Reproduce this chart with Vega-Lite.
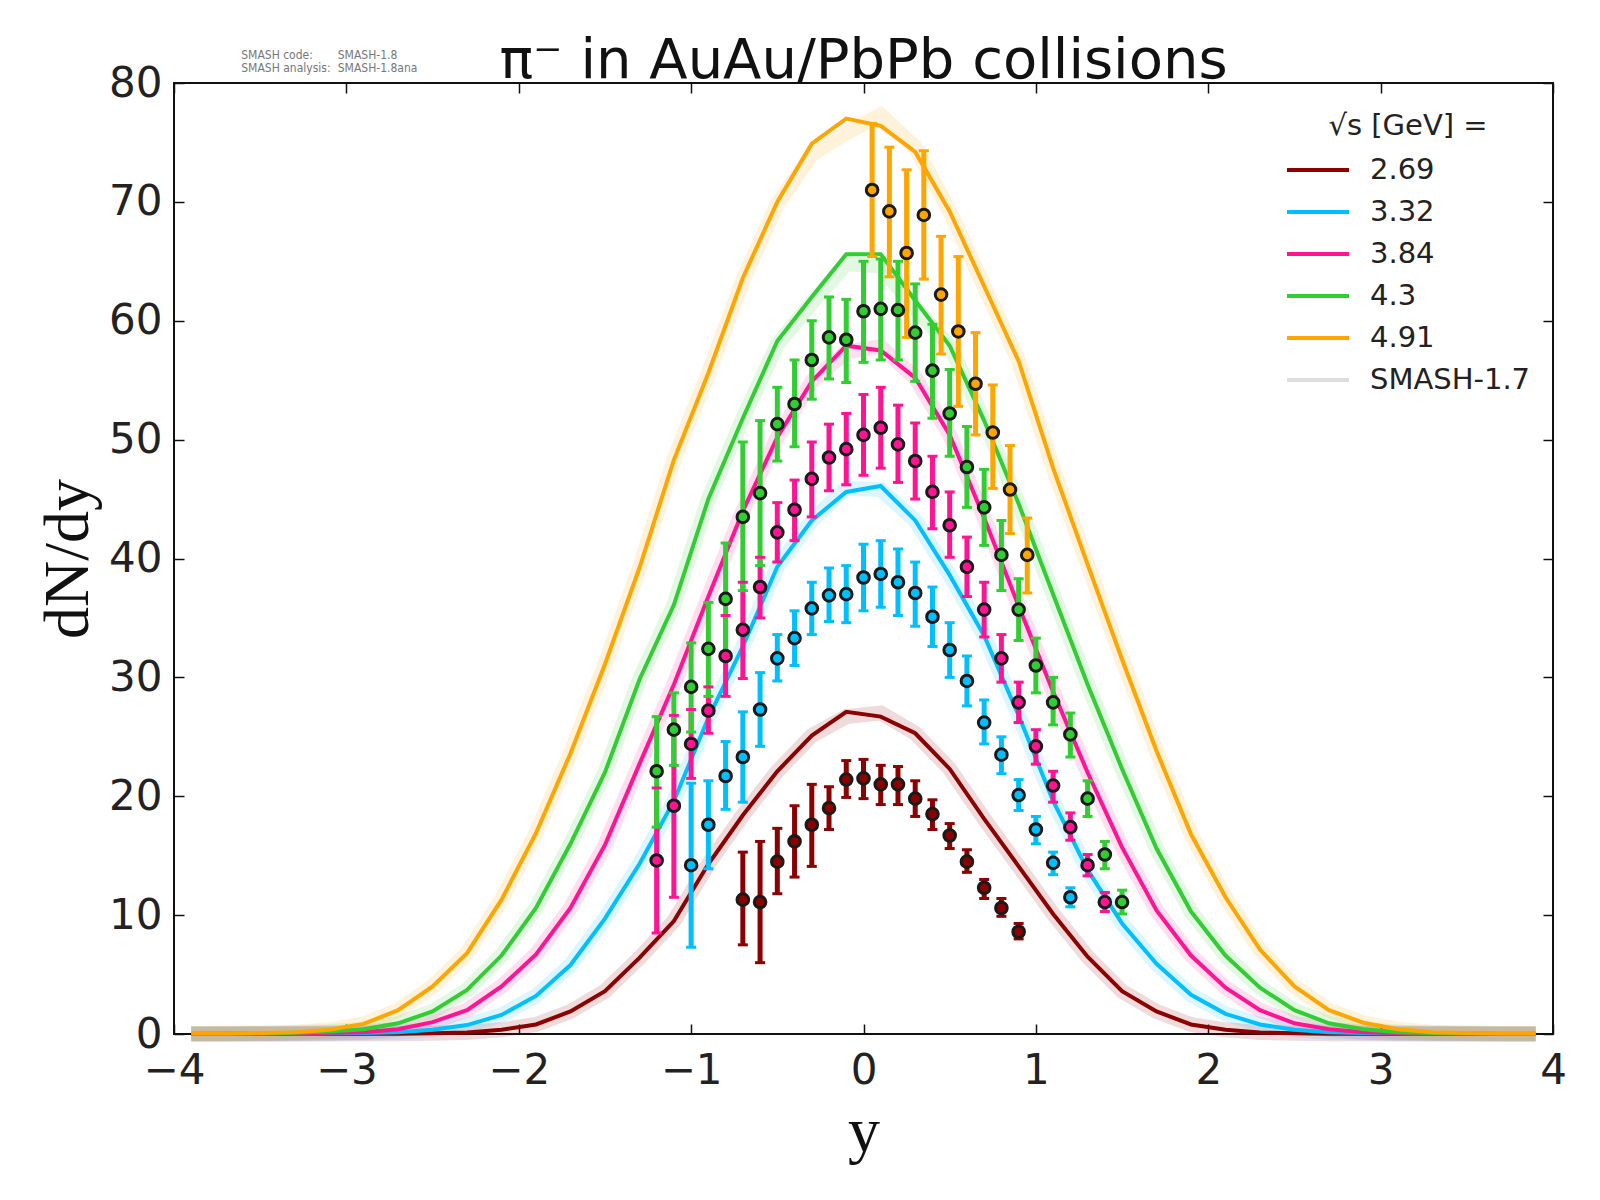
{
  "$schema": "https://vega.github.io/schema/vega-lite/v6.json",
  "width": 1379,
  "height": 951,
  "autosize": {"type": "none"},
  "padding": {"left": 174, "top": 83, "right": 47, "bottom": 166},
  "background": "white",
  "title": {
    "text": "π⁻ in AuAu/PbPb collisions",
    "font": "DejaVu Sans",
    "fontSize": 56,
    "fontWeight": "normal",
    "color": "#111",
    "anchor": "middle",
    "offset": -41
  },
  "datasets": {
    "curves": [
      {"energy": "2.69", "rap": -3.9, "dndy": 0.01, "dndy17": 0.01},
      {"energy": "2.69", "rap": -3.7, "dndy": 0.01, "dndy17": 0.01},
      {"energy": "2.69", "rap": -3.5, "dndy": 0.01, "dndy17": 0.01},
      {"energy": "2.69", "rap": -3.3, "dndy": 0.01, "dndy17": 0.01},
      {"energy": "2.69", "rap": -3.1, "dndy": 0.01, "dndy17": 0.01},
      {"energy": "2.69", "rap": -2.9, "dndy": 0.02, "dndy17": 0.02},
      {"energy": "2.69", "rap": -2.7, "dndy": 0.03, "dndy17": 0.03},
      {"energy": "2.69", "rap": -2.5, "dndy": 0.06, "dndy17": 0.06},
      {"energy": "2.69", "rap": -2.3, "dndy": 0.12, "dndy17": 0.12},
      {"energy": "2.69", "rap": -2.1, "dndy": 0.35, "dndy17": 0.35},
      {"energy": "2.69", "rap": -1.9, "dndy": 0.8, "dndy17": 0.8},
      {"energy": "2.69", "rap": -1.7, "dndy": 1.9, "dndy17": 1.9},
      {"energy": "2.69", "rap": -1.5, "dndy": 3.6, "dndy17": 3.6},
      {"energy": "2.69", "rap": -1.3, "dndy": 6.4, "dndy17": 6.4},
      {"energy": "2.69", "rap": -1.1, "dndy": 9.5, "dndy17": 9.5},
      {"energy": "2.69", "rap": -0.9, "dndy": 14.3, "dndy17": 14.3},
      {"energy": "2.69", "rap": -0.7, "dndy": 18.4, "dndy17": 18.4},
      {"energy": "2.69", "rap": -0.5, "dndy": 22.1, "dndy17": 22.1},
      {"energy": "2.69", "rap": -0.3, "dndy": 25.1, "dndy17": 25.1},
      {"energy": "2.69", "rap": -0.1, "dndy": 27.1, "dndy17": 26.7},
      {"energy": "2.69", "rap": 0.1, "dndy": 26.7, "dndy17": 27.0},
      {"energy": "2.69", "rap": 0.3, "dndy": 25.3, "dndy17": 25.3},
      {"energy": "2.69", "rap": 0.5, "dndy": 22.3, "dndy17": 22.3},
      {"energy": "2.69", "rap": 0.7, "dndy": 18.1, "dndy17": 18.1},
      {"energy": "2.69", "rap": 0.9, "dndy": 14.1, "dndy17": 14.1},
      {"energy": "2.69", "rap": 1.1, "dndy": 10.1, "dndy17": 10.1},
      {"energy": "2.69", "rap": 1.3, "dndy": 6.5, "dndy17": 6.5},
      {"energy": "2.69", "rap": 1.5, "dndy": 3.6, "dndy17": 3.6},
      {"energy": "2.69", "rap": 1.7, "dndy": 1.9, "dndy17": 1.9},
      {"energy": "2.69", "rap": 1.9, "dndy": 0.8, "dndy17": 0.8},
      {"energy": "2.69", "rap": 2.1, "dndy": 0.35, "dndy17": 0.35},
      {"energy": "2.69", "rap": 2.3, "dndy": 0.12, "dndy17": 0.12},
      {"energy": "2.69", "rap": 2.5, "dndy": 0.06, "dndy17": 0.06},
      {"energy": "2.69", "rap": 2.7, "dndy": 0.03, "dndy17": 0.03},
      {"energy": "2.69", "rap": 2.9, "dndy": 0.02, "dndy17": 0.02},
      {"energy": "2.69", "rap": 3.1, "dndy": 0.01, "dndy17": 0.01},
      {"energy": "2.69", "rap": 3.3, "dndy": 0.01, "dndy17": 0.01},
      {"energy": "2.69", "rap": 3.5, "dndy": 0.01, "dndy17": 0.01},
      {"energy": "2.69", "rap": 3.7, "dndy": 0.01, "dndy17": 0.01},
      {"energy": "2.69", "rap": 3.9, "dndy": 0.01, "dndy17": 0.01},

      {"energy": "3.32", "rap": -3.9, "dndy": 0.01, "dndy17": 0.01},
      {"energy": "3.32", "rap": -3.7, "dndy": 0.01, "dndy17": 0.01},
      {"energy": "3.32", "rap": -3.5, "dndy": 0.02, "dndy17": 0.02},
      {"energy": "3.32", "rap": -3.3, "dndy": 0.03, "dndy17": 0.03},
      {"energy": "3.32", "rap": -3.1, "dndy": 0.05, "dndy17": 0.05},
      {"energy": "3.32", "rap": -2.9, "dndy": 0.08, "dndy17": 0.08},
      {"energy": "3.32", "rap": -2.7, "dndy": 0.15, "dndy17": 0.15},
      {"energy": "3.32", "rap": -2.5, "dndy": 0.35, "dndy17": 0.35},
      {"energy": "3.32", "rap": -2.3, "dndy": 0.75, "dndy17": 0.75},
      {"energy": "3.32", "rap": -2.1, "dndy": 1.6, "dndy17": 1.6},
      {"energy": "3.32", "rap": -1.9, "dndy": 3.2, "dndy17": 3.2},
      {"energy": "3.32", "rap": -1.7, "dndy": 5.8, "dndy17": 5.8},
      {"energy": "3.32", "rap": -1.5, "dndy": 9.7, "dndy17": 9.7},
      {"energy": "3.32", "rap": -1.3, "dndy": 14.3, "dndy17": 14.3},
      {"energy": "3.32", "rap": -1.1, "dndy": 19.6, "dndy17": 19.6},
      {"energy": "3.32", "rap": -0.9, "dndy": 26.6, "dndy17": 26.6},
      {"energy": "3.32", "rap": -0.7, "dndy": 32.6, "dndy17": 32.6},
      {"energy": "3.32", "rap": -0.5, "dndy": 39.3, "dndy17": 39.3},
      {"energy": "3.32", "rap": -0.3, "dndy": 43.2, "dndy17": 43.2},
      {"energy": "3.32", "rap": -0.1, "dndy": 45.6, "dndy17": 45.9},
      {"energy": "3.32", "rap": 0.1, "dndy": 46.1, "dndy17": 45.8},
      {"energy": "3.32", "rap": 0.3, "dndy": 43.2, "dndy17": 43.2},
      {"energy": "3.32", "rap": 0.5, "dndy": 38.6, "dndy17": 38.6},
      {"energy": "3.32", "rap": 0.7, "dndy": 33.5, "dndy17": 33.5},
      {"energy": "3.32", "rap": 0.9, "dndy": 26.8, "dndy17": 26.8},
      {"energy": "3.32", "rap": 1.1, "dndy": 19.6, "dndy17": 19.6},
      {"energy": "3.32", "rap": 1.3, "dndy": 13.8, "dndy17": 13.8},
      {"energy": "3.32", "rap": 1.5, "dndy": 9.3, "dndy17": 9.3},
      {"energy": "3.32", "rap": 1.7, "dndy": 5.9, "dndy17": 5.9},
      {"energy": "3.32", "rap": 1.9, "dndy": 3.3, "dndy17": 3.3},
      {"energy": "3.32", "rap": 2.1, "dndy": 1.7, "dndy17": 1.7},
      {"energy": "3.32", "rap": 2.3, "dndy": 0.8, "dndy17": 0.8},
      {"energy": "3.32", "rap": 2.5, "dndy": 0.35, "dndy17": 0.35},
      {"energy": "3.32", "rap": 2.7, "dndy": 0.15, "dndy17": 0.15},
      {"energy": "3.32", "rap": 2.9, "dndy": 0.08, "dndy17": 0.08},
      {"energy": "3.32", "rap": 3.1, "dndy": 0.05, "dndy17": 0.05},
      {"energy": "3.32", "rap": 3.3, "dndy": 0.03, "dndy17": 0.03},
      {"energy": "3.32", "rap": 3.5, "dndy": 0.02, "dndy17": 0.02},
      {"energy": "3.32", "rap": 3.7, "dndy": 0.01, "dndy17": 0.01},
      {"energy": "3.32", "rap": 3.9, "dndy": 0.01, "dndy17": 0.01},

      {"energy": "3.84", "rap": -3.9, "dndy": 0.01, "dndy17": 0.01},
      {"energy": "3.84", "rap": -3.7, "dndy": 0.02, "dndy17": 0.02},
      {"energy": "3.84", "rap": -3.5, "dndy": 0.03, "dndy17": 0.03},
      {"energy": "3.84", "rap": -3.3, "dndy": 0.05, "dndy17": 0.05},
      {"energy": "3.84", "rap": -3.1, "dndy": 0.1, "dndy17": 0.1},
      {"energy": "3.84", "rap": -2.9, "dndy": 0.15, "dndy17": 0.15},
      {"energy": "3.84", "rap": -2.7, "dndy": 0.4, "dndy17": 0.4},
      {"energy": "3.84", "rap": -2.5, "dndy": 1.0, "dndy17": 1.0},
      {"energy": "3.84", "rap": -2.3, "dndy": 2.0, "dndy17": 2.0},
      {"energy": "3.84", "rap": -2.1, "dndy": 4.0, "dndy17": 4.0},
      {"energy": "3.84", "rap": -1.9, "dndy": 6.7, "dndy17": 6.7},
      {"energy": "3.84", "rap": -1.7, "dndy": 10.6, "dndy17": 10.6},
      {"energy": "3.84", "rap": -1.5, "dndy": 15.9, "dndy17": 15.9},
      {"energy": "3.84", "rap": -1.3, "dndy": 22.7, "dndy17": 22.7},
      {"energy": "3.84", "rap": -1.1, "dndy": 29.4, "dndy17": 29.4},
      {"energy": "3.84", "rap": -0.9, "dndy": 36.8, "dndy17": 36.8},
      {"energy": "3.84", "rap": -0.7, "dndy": 44.0, "dndy17": 44.0},
      {"energy": "3.84", "rap": -0.5, "dndy": 50.2, "dndy17": 50.2},
      {"energy": "3.84", "rap": -0.3, "dndy": 54.9, "dndy17": 54.9},
      {"energy": "3.84", "rap": -0.1, "dndy": 57.9, "dndy17": 57.4},
      {"energy": "3.84", "rap": 0.1, "dndy": 57.5, "dndy17": 57.8},
      {"energy": "3.84", "rap": 0.3, "dndy": 55.2, "dndy17": 55.2},
      {"energy": "3.84", "rap": 0.5, "dndy": 50.4, "dndy17": 50.4},
      {"energy": "3.84", "rap": 0.7, "dndy": 43.4, "dndy17": 43.4},
      {"energy": "3.84", "rap": 0.9, "dndy": 36.0, "dndy17": 36.0},
      {"energy": "3.84", "rap": 1.1, "dndy": 28.8, "dndy17": 28.8},
      {"energy": "3.84", "rap": 1.3, "dndy": 22.0, "dndy17": 22.0},
      {"energy": "3.84", "rap": 1.5, "dndy": 15.7, "dndy17": 15.7},
      {"energy": "3.84", "rap": 1.7, "dndy": 10.4, "dndy17": 10.4},
      {"energy": "3.84", "rap": 1.9, "dndy": 6.6, "dndy17": 6.6},
      {"energy": "3.84", "rap": 2.1, "dndy": 3.9, "dndy17": 3.9},
      {"energy": "3.84", "rap": 2.3, "dndy": 2.0, "dndy17": 2.0},
      {"energy": "3.84", "rap": 2.5, "dndy": 0.9, "dndy17": 0.9},
      {"energy": "3.84", "rap": 2.7, "dndy": 0.4, "dndy17": 0.4},
      {"energy": "3.84", "rap": 2.9, "dndy": 0.15, "dndy17": 0.15},
      {"energy": "3.84", "rap": 3.1, "dndy": 0.08, "dndy17": 0.08},
      {"energy": "3.84", "rap": 3.3, "dndy": 0.04, "dndy17": 0.04},
      {"energy": "3.84", "rap": 3.5, "dndy": 0.02, "dndy17": 0.02},
      {"energy": "3.84", "rap": 3.7, "dndy": 0.01, "dndy17": 0.01},
      {"energy": "3.84", "rap": 3.9, "dndy": 0.01, "dndy17": 0.01},

      {"energy": "4.3", "rap": -3.9, "dndy": 0.02, "dndy17": 0.02},
      {"energy": "4.3", "rap": -3.7, "dndy": 0.03, "dndy17": 0.03},
      {"energy": "4.3", "rap": -3.5, "dndy": 0.05, "dndy17": 0.05},
      {"energy": "4.3", "rap": -3.3, "dndy": 0.1, "dndy17": 0.1},
      {"energy": "4.3", "rap": -3.1, "dndy": 0.2, "dndy17": 0.2},
      {"energy": "4.3", "rap": -2.9, "dndy": 0.4, "dndy17": 0.4},
      {"energy": "4.3", "rap": -2.7, "dndy": 0.9, "dndy17": 0.9},
      {"energy": "4.3", "rap": -2.5, "dndy": 1.9, "dndy17": 1.9},
      {"energy": "4.3", "rap": -2.3, "dndy": 3.7, "dndy17": 3.7},
      {"energy": "4.3", "rap": -2.1, "dndy": 6.6, "dndy17": 6.6},
      {"energy": "4.3", "rap": -1.9, "dndy": 10.6, "dndy17": 10.6},
      {"energy": "4.3", "rap": -1.7, "dndy": 16.0, "dndy17": 16.0},
      {"energy": "4.3", "rap": -1.5, "dndy": 22.0, "dndy17": 22.0},
      {"energy": "4.3", "rap": -1.3, "dndy": 29.8, "dndy17": 29.8},
      {"energy": "4.3", "rap": -1.1, "dndy": 36.1, "dndy17": 36.1},
      {"energy": "4.3", "rap": -0.9, "dndy": 45.0, "dndy17": 45.0},
      {"energy": "4.3", "rap": -0.7, "dndy": 51.8, "dndy17": 51.8},
      {"energy": "4.3", "rap": -0.5, "dndy": 58.3, "dndy17": 58.0},
      {"energy": "4.3", "rap": -0.3, "dndy": 62.0, "dndy17": 61.5},
      {"energy": "4.3", "rap": -0.1, "dndy": 65.6, "dndy17": 64.8},
      {"energy": "4.3", "rap": 0.1, "dndy": 65.6, "dndy17": 64.6},
      {"energy": "4.3", "rap": 0.3, "dndy": 61.7, "dndy17": 61.0},
      {"energy": "4.3", "rap": 0.5, "dndy": 57.9, "dndy17": 57.9},
      {"energy": "4.3", "rap": 0.7, "dndy": 51.6, "dndy17": 51.6},
      {"energy": "4.3", "rap": 0.9, "dndy": 44.6, "dndy17": 44.6},
      {"energy": "4.3", "rap": 1.1, "dndy": 37.0, "dndy17": 37.0},
      {"energy": "4.3", "rap": 1.3, "dndy": 29.4, "dndy17": 29.4},
      {"energy": "4.3", "rap": 1.5, "dndy": 22.3, "dndy17": 22.3},
      {"energy": "4.3", "rap": 1.7, "dndy": 15.6, "dndy17": 15.6},
      {"energy": "4.3", "rap": 1.9, "dndy": 10.3, "dndy17": 10.3},
      {"energy": "4.3", "rap": 2.1, "dndy": 6.6, "dndy17": 6.6},
      {"energy": "4.3", "rap": 2.3, "dndy": 3.9, "dndy17": 3.9},
      {"energy": "4.3", "rap": 2.5, "dndy": 2.0, "dndy17": 2.0},
      {"energy": "4.3", "rap": 2.7, "dndy": 0.9, "dndy17": 0.9},
      {"energy": "4.3", "rap": 2.9, "dndy": 0.4, "dndy17": 0.4},
      {"energy": "4.3", "rap": 3.1, "dndy": 0.15, "dndy17": 0.15},
      {"energy": "4.3", "rap": 3.3, "dndy": 0.08, "dndy17": 0.08},
      {"energy": "4.3", "rap": 3.5, "dndy": 0.05, "dndy17": 0.05},
      {"energy": "4.3", "rap": 3.7, "dndy": 0.03, "dndy17": 0.03},
      {"energy": "4.3", "rap": 3.9, "dndy": 0.02, "dndy17": 0.02},

      {"energy": "4.91", "rap": -3.9, "dndy": 0.05, "dndy17": 0.05},
      {"energy": "4.91", "rap": -3.7, "dndy": 0.05, "dndy17": 0.05},
      {"energy": "4.91", "rap": -3.5, "dndy": 0.08, "dndy17": 0.08},
      {"energy": "4.91", "rap": -3.3, "dndy": 0.15, "dndy17": 0.15},
      {"energy": "4.91", "rap": -3.1, "dndy": 0.35, "dndy17": 0.35},
      {"energy": "4.91", "rap": -2.9, "dndy": 0.85, "dndy17": 0.85},
      {"energy": "4.91", "rap": -2.7, "dndy": 2.0, "dndy17": 2.0},
      {"energy": "4.91", "rap": -2.5, "dndy": 4.0, "dndy17": 4.0},
      {"energy": "4.91", "rap": -2.3, "dndy": 6.8, "dndy17": 6.8},
      {"energy": "4.91", "rap": -2.1, "dndy": 11.3, "dndy17": 11.3},
      {"energy": "4.91", "rap": -1.9, "dndy": 16.9, "dndy17": 16.9},
      {"energy": "4.91", "rap": -1.7, "dndy": 23.6, "dndy17": 23.6},
      {"energy": "4.91", "rap": -1.5, "dndy": 31.1, "dndy17": 31.1},
      {"energy": "4.91", "rap": -1.3, "dndy": 39.2, "dndy17": 39.2},
      {"energy": "4.91", "rap": -1.1, "dndy": 48.3, "dndy17": 48.3},
      {"energy": "4.91", "rap": -0.9, "dndy": 55.6, "dndy17": 55.6},
      {"energy": "4.91", "rap": -0.7, "dndy": 63.6, "dndy17": 63.4},
      {"energy": "4.91", "rap": -0.5, "dndy": 70.0, "dndy17": 69.8},
      {"energy": "4.91", "rap": -0.3, "dndy": 74.9, "dndy17": 74.0},
      {"energy": "4.91", "rap": -0.1, "dndy": 77.0, "dndy17": 75.8},
      {"energy": "4.91", "rap": 0.1, "dndy": 76.4, "dndy17": 77.3},
      {"energy": "4.91", "rap": 0.3, "dndy": 74.2, "dndy17": 74.6},
      {"energy": "4.91", "rap": 0.5, "dndy": 69.2, "dndy17": 69.2},
      {"energy": "4.91", "rap": 0.7, "dndy": 62.9, "dndy17": 62.9},
      {"energy": "4.91", "rap": 0.9, "dndy": 56.6, "dndy17": 56.6},
      {"energy": "4.91", "rap": 1.1, "dndy": 47.6, "dndy17": 47.6},
      {"energy": "4.91", "rap": 1.3, "dndy": 39.5, "dndy17": 39.5},
      {"energy": "4.91", "rap": 1.5, "dndy": 31.5, "dndy17": 31.5},
      {"energy": "4.91", "rap": 1.7, "dndy": 23.8, "dndy17": 23.8},
      {"energy": "4.91", "rap": 1.9, "dndy": 16.8, "dndy17": 16.8},
      {"energy": "4.91", "rap": 2.1, "dndy": 11.5, "dndy17": 11.5},
      {"energy": "4.91", "rap": 2.3, "dndy": 7.1, "dndy17": 7.1},
      {"energy": "4.91", "rap": 2.5, "dndy": 4.0, "dndy17": 4.0},
      {"energy": "4.91", "rap": 2.7, "dndy": 2.0, "dndy17": 2.0},
      {"energy": "4.91", "rap": 2.9, "dndy": 0.95, "dndy17": 0.95},
      {"energy": "4.91", "rap": 3.1, "dndy": 0.4, "dndy17": 0.4},
      {"energy": "4.91", "rap": 3.3, "dndy": 0.15, "dndy17": 0.15},
      {"energy": "4.91", "rap": 3.5, "dndy": 0.08, "dndy17": 0.08},
      {"energy": "4.91", "rap": 3.7, "dndy": 0.05, "dndy17": 0.05},
      {"energy": "4.91", "rap": 3.9, "dndy": 0.05, "dndy17": 0.05}
    ],
    "points": [
      {"energy": "2.69", "rap": -0.7, "dndy": 11.3, "lo": 7.5, "hi": 15.3},
      {"energy": "2.69", "rap": -0.6, "dndy": 11.1, "lo": 6.0, "hi": 16.2},
      {"energy": "2.69", "rap": -0.5, "dndy": 14.5, "lo": 11.8, "hi": 17.3},
      {"energy": "2.69", "rap": -0.4, "dndy": 16.2, "lo": 13.2, "hi": 19.2},
      {"energy": "2.69", "rap": -0.3, "dndy": 17.6, "lo": 14.1, "hi": 21.0},
      {"energy": "2.69", "rap": -0.2, "dndy": 19.0, "lo": 17.2, "hi": 20.8},
      {"energy": "2.69", "rap": -0.1, "dndy": 21.4, "lo": 19.9, "hi": 23.0},
      {"energy": "2.69", "rap": 0.0, "dndy": 21.5, "lo": 19.8, "hi": 23.1},
      {"energy": "2.69", "rap": 0.1, "dndy": 21.0, "lo": 19.3, "hi": 22.6},
      {"energy": "2.69", "rap": 0.2, "dndy": 21.0, "lo": 19.3, "hi": 22.5},
      {"energy": "2.69", "rap": 0.3, "dndy": 19.8, "lo": 18.3, "hi": 21.3},
      {"energy": "2.69", "rap": 0.4, "dndy": 18.5, "lo": 17.2, "hi": 19.7},
      {"energy": "2.69", "rap": 0.5, "dndy": 16.7, "lo": 15.6, "hi": 17.7},
      {"energy": "2.69", "rap": 0.6, "dndy": 14.5, "lo": 13.6, "hi": 15.5},
      {"energy": "2.69", "rap": 0.7, "dndy": 12.3, "lo": 11.4, "hi": 13.0},
      {"energy": "2.69", "rap": 0.8, "dndy": 10.6, "lo": 9.9, "hi": 11.4},
      {"energy": "2.69", "rap": 0.9, "dndy": 8.6, "lo": 8.0, "hi": 9.3},

      {"energy": "3.32", "rap": -1.0, "dndy": 14.2, "lo": 7.3, "hi": 21.1},
      {"energy": "3.32", "rap": -0.9, "dndy": 17.6, "lo": 13.9, "hi": 21.3},
      {"energy": "3.32", "rap": -0.8, "dndy": 21.7, "lo": 18.9, "hi": 24.6},
      {"energy": "3.32", "rap": -0.7, "dndy": 23.3, "lo": 19.5, "hi": 27.1},
      {"energy": "3.32", "rap": -0.6, "dndy": 27.3, "lo": 24.2, "hi": 30.4},
      {"energy": "3.32", "rap": -0.5, "dndy": 31.6, "lo": 29.7, "hi": 33.6},
      {"energy": "3.32", "rap": -0.4, "dndy": 33.3, "lo": 31.0, "hi": 35.6},
      {"energy": "3.32", "rap": -0.3, "dndy": 35.8, "lo": 33.6, "hi": 38.0},
      {"energy": "3.32", "rap": -0.2, "dndy": 36.9, "lo": 34.7, "hi": 39.2},
      {"energy": "3.32", "rap": -0.1, "dndy": 37.0, "lo": 34.6, "hi": 39.4},
      {"energy": "3.32", "rap": 0.0, "dndy": 38.4, "lo": 35.6, "hi": 41.2},
      {"energy": "3.32", "rap": 0.1, "dndy": 38.7, "lo": 35.9, "hi": 41.5},
      {"energy": "3.32", "rap": 0.2, "dndy": 38.0, "lo": 35.2, "hi": 40.8},
      {"energy": "3.32", "rap": 0.3, "dndy": 37.1, "lo": 34.3, "hi": 39.7},
      {"energy": "3.32", "rap": 0.4, "dndy": 35.1, "lo": 32.6, "hi": 37.6},
      {"energy": "3.32", "rap": 0.5, "dndy": 32.3, "lo": 30.0, "hi": 34.6},
      {"energy": "3.32", "rap": 0.6, "dndy": 29.7, "lo": 27.6, "hi": 31.8},
      {"energy": "3.32", "rap": 0.7, "dndy": 26.2, "lo": 24.4, "hi": 28.1},
      {"energy": "3.32", "rap": 0.8, "dndy": 23.5, "lo": 21.9, "hi": 25.0},
      {"energy": "3.32", "rap": 0.9, "dndy": 20.1, "lo": 18.8, "hi": 21.4},
      {"energy": "3.32", "rap": 1.0, "dndy": 17.2, "lo": 16.0, "hi": 18.3},
      {"energy": "3.32", "rap": 1.1, "dndy": 14.4, "lo": 13.4, "hi": 15.3},
      {"energy": "3.32", "rap": 1.2, "dndy": 11.5, "lo": 10.7, "hi": 12.3},

      {"energy": "3.84", "rap": -1.2, "dndy": 14.6, "lo": 8.5, "hi": 20.7},
      {"energy": "3.84", "rap": -1.1, "dndy": 19.2, "lo": 11.5, "hi": 26.8},
      {"energy": "3.84", "rap": -1.0, "dndy": 24.4, "lo": 21.5, "hi": 27.3},
      {"energy": "3.84", "rap": -0.9, "dndy": 27.2, "lo": 25.3, "hi": 29.2},
      {"energy": "3.84", "rap": -0.8, "dndy": 31.8, "lo": 28.4, "hi": 35.2},
      {"energy": "3.84", "rap": -0.7, "dndy": 34.0, "lo": 29.9, "hi": 38.0},
      {"energy": "3.84", "rap": -0.6, "dndy": 37.6, "lo": 35.0, "hi": 40.1},
      {"energy": "3.84", "rap": -0.5, "dndy": 42.2, "lo": 39.7, "hi": 44.7},
      {"energy": "3.84", "rap": -0.4, "dndy": 44.1, "lo": 41.5, "hi": 46.6},
      {"energy": "3.84", "rap": -0.3, "dndy": 46.7, "lo": 43.5, "hi": 49.8},
      {"energy": "3.84", "rap": -0.2, "dndy": 48.5, "lo": 45.7, "hi": 51.3},
      {"energy": "3.84", "rap": -0.1, "dndy": 49.2, "lo": 46.2, "hi": 52.2},
      {"energy": "3.84", "rap": 0.0, "dndy": 50.4, "lo": 47.0, "hi": 53.8},
      {"energy": "3.84", "rap": 0.1, "dndy": 51.0, "lo": 47.6, "hi": 54.4},
      {"energy": "3.84", "rap": 0.2, "dndy": 49.6, "lo": 46.4, "hi": 52.9},
      {"energy": "3.84", "rap": 0.3, "dndy": 48.2, "lo": 45.0, "hi": 51.4},
      {"energy": "3.84", "rap": 0.4, "dndy": 45.6, "lo": 42.5, "hi": 48.6},
      {"energy": "3.84", "rap": 0.5, "dndy": 42.8, "lo": 40.1, "hi": 45.6},
      {"energy": "3.84", "rap": 0.6, "dndy": 39.3, "lo": 36.8, "hi": 41.8},
      {"energy": "3.84", "rap": 0.7, "dndy": 35.7, "lo": 33.4, "hi": 38.0},
      {"energy": "3.84", "rap": 0.8, "dndy": 31.6, "lo": 29.6, "hi": 33.6},
      {"energy": "3.84", "rap": 0.9, "dndy": 27.9, "lo": 26.2, "hi": 29.6},
      {"energy": "3.84", "rap": 1.0, "dndy": 24.2, "lo": 22.7, "hi": 25.6},
      {"energy": "3.84", "rap": 1.1, "dndy": 20.9, "lo": 19.5, "hi": 22.1},
      {"energy": "3.84", "rap": 1.2, "dndy": 17.4, "lo": 16.3, "hi": 18.6},
      {"energy": "3.84", "rap": 1.3, "dndy": 14.2, "lo": 13.3, "hi": 15.1},
      {"energy": "3.84", "rap": 1.4, "dndy": 11.1, "lo": 10.3, "hi": 11.9},

      {"energy": "4.3", "rap": -1.2, "dndy": 22.1, "lo": 17.4, "hi": 26.7},
      {"energy": "4.3", "rap": -1.1, "dndy": 25.6, "lo": 22.6, "hi": 28.7},
      {"energy": "4.3", "rap": -1.0, "dndy": 29.2, "lo": 25.4, "hi": 32.9},
      {"energy": "4.3", "rap": -0.9, "dndy": 32.4, "lo": 28.4, "hi": 36.3},
      {"energy": "4.3", "rap": -0.8, "dndy": 36.6, "lo": 32.0, "hi": 41.3},
      {"energy": "4.3", "rap": -0.7, "dndy": 43.5, "lo": 37.3, "hi": 49.8},
      {"energy": "4.3", "rap": -0.6, "dndy": 45.5, "lo": 39.4, "hi": 51.6},
      {"energy": "4.3", "rap": -0.5, "dndy": 51.3, "lo": 48.2, "hi": 54.4},
      {"energy": "4.3", "rap": -0.4, "dndy": 53.0, "lo": 49.4, "hi": 56.7},
      {"energy": "4.3", "rap": -0.3, "dndy": 56.7, "lo": 53.4, "hi": 60.0},
      {"energy": "4.3", "rap": -0.2, "dndy": 58.6, "lo": 55.1, "hi": 62.0},
      {"energy": "4.3", "rap": -0.1, "dndy": 58.4, "lo": 54.8, "hi": 61.8},
      {"energy": "4.3", "rap": 0.0, "dndy": 60.8, "lo": 56.5, "hi": 65.0},
      {"energy": "4.3", "rap": 0.1, "dndy": 61.0, "lo": 56.7, "hi": 65.2},
      {"energy": "4.3", "rap": 0.2, "dndy": 60.9, "lo": 56.7, "hi": 65.0},
      {"energy": "4.3", "rap": 0.3, "dndy": 59.0, "lo": 54.9, "hi": 63.1},
      {"energy": "4.3", "rap": 0.4, "dndy": 55.8, "lo": 51.8, "hi": 59.7},
      {"energy": "4.3", "rap": 0.5, "dndy": 52.2, "lo": 48.6, "hi": 55.9},
      {"energy": "4.3", "rap": 0.6, "dndy": 47.7, "lo": 44.3, "hi": 51.1},
      {"energy": "4.3", "rap": 0.7, "dndy": 44.3, "lo": 41.1, "hi": 47.5},
      {"energy": "4.3", "rap": 0.8, "dndy": 40.3, "lo": 37.3, "hi": 43.2},
      {"energy": "4.3", "rap": 0.9, "dndy": 35.7, "lo": 33.1, "hi": 38.3},
      {"energy": "4.3", "rap": 1.0, "dndy": 31.0, "lo": 28.7, "hi": 33.3},
      {"energy": "4.3", "rap": 1.1, "dndy": 27.9, "lo": 26.0, "hi": 30.0},
      {"energy": "4.3", "rap": 1.2, "dndy": 25.2, "lo": 23.3, "hi": 27.0},
      {"energy": "4.3", "rap": 1.3, "dndy": 19.8, "lo": 18.3, "hi": 21.3},
      {"energy": "4.3", "rap": 1.4, "dndy": 15.1, "lo": 13.9, "hi": 16.2},
      {"energy": "4.3", "rap": 1.5, "dndy": 11.1, "lo": 10.1, "hi": 12.1},

      {"energy": "4.91", "rap": 0.05, "dndy": 71.0, "lo": 65.4, "hi": 76.6},
      {"energy": "4.91", "rap": 0.15, "dndy": 69.2, "lo": 63.7, "hi": 74.6},
      {"energy": "4.91", "rap": 0.25, "dndy": 65.7, "lo": 58.6, "hi": 72.7},
      {"energy": "4.91", "rap": 0.35, "dndy": 68.9, "lo": 63.5, "hi": 74.3},
      {"energy": "4.91", "rap": 0.45, "dndy": 62.2, "lo": 57.2, "hi": 67.1},
      {"energy": "4.91", "rap": 0.55, "dndy": 59.1, "lo": 52.8, "hi": 65.4},
      {"energy": "4.91", "rap": 0.65, "dndy": 54.7, "lo": 50.4, "hi": 59.0},
      {"energy": "4.91", "rap": 0.75, "dndy": 50.6, "lo": 45.9, "hi": 54.6},
      {"energy": "4.91", "rap": 0.85, "dndy": 45.8, "lo": 42.1, "hi": 49.5},
      {"energy": "4.91", "rap": 0.95, "dndy": 40.3, "lo": 37.1, "hi": 43.4}
    ],
    "notes": [
      {"nx": -3.61, "ny": 82.35, "label": "SMASH code:"},
      {"nx": -3.05, "ny": 82.35, "label": "SMASH-1.8"},
      {"nx": -3.61, "ny": 81.25, "label": "SMASH analysis:"},
      {"nx": -3.05, "ny": 81.25, "label": "SMASH-1.8ana"}
    ]
  },
  "resolve": {"axis": {"x": "independent", "y": "independent"}},
  "layer": [
    {
      "data": {"name": "curves"},
      "mark": {"type": "line", "strokeWidth": 15, "opacity": 0.14},
      "encoding": {
        "x": {"field": "rap", "type": "quantitative", "scale": {"domain": [-4, 4], "nice": false}, "axis": null},
        "y": {"field": "dndy17", "type": "quantitative", "scale": {"domain": [0, 80], "nice": false}, "axis": null},
        "stroke": {
          "field": "energy", "type": "nominal", "legend": null,
          "scale": {"domain": ["2.69", "3.32", "3.84", "4.3", "4.91"], "range": ["#8b0000", "#00bfff", "#ff1493", "#32cd32", "#ffa500"]}
        },
        "detail": {"field": "energy"}
      }
    },
    {
      "data": {"name": "curves"},
      "mark": {"type": "line"},
      "encoding": {
        "x": {
          "field": "rap", "type": "quantitative",
          "scale": {"domain": [-4, 4], "nice": false},
          "axis": {"orient": "bottom", "title": "y", "values": [-4, -3, -2, -1, 0, 1, 2, 3, 4], "labelPadding": 26, "titlePadding": 8}
        },
        "y": {
          "field": "dndy", "type": "quantitative",
          "scale": {"domain": [0, 80], "nice": false},
          "axis": {"orient": "left", "title": "dN/dy", "values": [0, 10, 20, 30, 40, 50, 60, 70, 80], "labelPadding": 22, "titlePadding": 8}
        },
        "color": {
          "field": "energy", "type": "nominal",
          "scale": {
            "domain": ["2.69", "3.32", "3.84", "4.3", "4.91", "SMASH-1.7"],
            "range": ["#8b0000", "#00bfff", "#ff1493", "#32cd32", "#ffa500", "#dddddd"]
          },
          "legend": {
            "title": "√s  [GeV] =",
            "encode": {
              "symbols": {
                "enter": {"strokeWidth": {"signal": "datum.value === 'SMASH-1.7' ? 11 : 4"}},
                "update": {"strokeWidth": {"signal": "datum.value === 'SMASH-1.7' ? 11 : 4"}}
              }
            }
          }
        },
        "strokeWidth": {
          "field": "energy", "type": "nominal",
          "scale": {
            "domain": ["2.69", "3.32", "3.84", "4.3", "4.91", "SMASH-1.7"],
            "range": [4, 4, 4, 4, 4, 11]
          },
          "legend": {"title": "√s  [GeV] ="}
        }
      }
    },
    {
      "data": {"name": "points"},
      "mark": {"type": "rule", "strokeWidth": 5},
      "encoding": {
        "x": {"field": "rap", "type": "quantitative", "scale": {"domain": [-4, 4], "nice": false}, "axis": null},
        "y": {"field": "lo", "type": "quantitative", "scale": {"domain": [0, 80], "nice": false}, "axis": null},
        "y2": {"field": "hi"},
        "stroke": {"field": "energy", "type": "nominal", "legend": null}
      }
    },
    {
      "data": {"name": "points"},
      "mark": {"type": "tick", "orient": "horizontal", "size": 10, "thickness": 3, "opacity": 1},
      "encoding": {
        "x": {"field": "rap", "type": "quantitative", "scale": {"domain": [-4, 4], "nice": false}, "axis": null},
        "y": {"field": "lo", "type": "quantitative", "scale": {"domain": [0, 80], "nice": false}, "axis": null},
        "fill": {
          "field": "energy", "type": "nominal", "legend": null,
          "scale": {"domain": ["2.69", "3.32", "3.84", "4.3", "4.91"], "range": ["#8b0000", "#00bfff", "#ff1493", "#32cd32", "#ffa500"]}
        }
      }
    },
    {
      "data": {"name": "points"},
      "mark": {"type": "tick", "orient": "horizontal", "size": 10, "thickness": 3, "opacity": 1},
      "encoding": {
        "x": {"field": "rap", "type": "quantitative", "scale": {"domain": [-4, 4], "nice": false}, "axis": null},
        "y": {"field": "hi", "type": "quantitative", "scale": {"domain": [0, 80], "nice": false}, "axis": null},
        "fill": {"field": "energy", "type": "nominal", "legend": null}
      }
    },
    {
      "data": {"name": "points"},
      "mark": {"type": "point", "shape": "circle", "size": 135, "stroke": "#1a1a1a", "strokeWidth": 3, "opacity": 1},
      "encoding": {
        "x": {"field": "rap", "type": "quantitative", "scale": {"domain": [-4, 4], "nice": false}, "axis": null},
        "y": {"field": "dndy", "type": "quantitative", "scale": {"domain": [0, 80], "nice": false}, "axis": null},
        "fill": {"field": "energy", "type": "nominal", "legend": null}
      }
    },
    {
      "data": {"name": "notes"},
      "mark": {"type": "text", "align": "left", "baseline": "middle", "font": "DejaVu Sans Condensed", "fontSize": 12, "color": "#777"},
      "encoding": {
        "x": {
          "field": "nx", "type": "quantitative",
          "scale": {"domain": [-4, 4], "nice": false},
          "axis": {"orient": "top", "title": null, "labels": false, "values": [-4, -3, -2, -1, 0, 1, 2, 3, 4]}
        },
        "y": {
          "field": "ny", "type": "quantitative",
          "scale": {"domain": [0, 80], "nice": false},
          "axis": {"orient": "right", "title": null, "labels": false, "values": [0, 10, 20, 30, 40, 50, 60, 70, 80]}
        },
        "text": {"field": "label"}
      }
    }
  ],
  "config": {
    "view": {"stroke": "#111", "strokeWidth": 2},
    "axis": {
      "grid": false,
      "domain": false,
      "ticks": true,
      "tickColor": "#111",
      "tickWidth": 1.5,
      "tickSize": -10,
      "labelFlush": false,
      "labelOverlap": false,
      "labelFont": "DejaVu Sans",
      "labelFontSize": 42,
      "labelColor": "#222",
      "titleFont": "Liberation Serif",
      "titleFontSize": 64,
      "titleFontWeight": "normal",
      "titleColor": "#111"
    },
    "legend": {
      "orient": "none",
      "legendX": 1111,
      "legendY": 29,
      "padding": 0,
      "titleFont": "DejaVu Sans",
      "titleFontSize": 29,
      "titleFontWeight": "normal",
      "titleColor": "#222",
      "titleAnchor": "middle",
      "titleAlign": "center",
      "titlePadding": 14,
      "labelFont": "DejaVu Sans",
      "labelFontSize": 29,
      "labelColor": "#222",
      "labelLimit": 400,
      "labelOffset": 19,
      "symbolType": "stroke",
      "symbolSize": 3844,
      "clipHeight": 30,
      "rowPadding": 12
    }
  }
}
